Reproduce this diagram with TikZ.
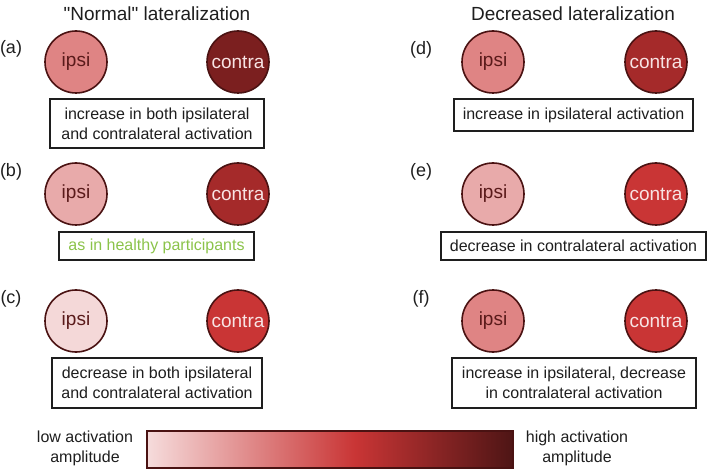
\documentclass[tikz,border=0pt]{standalone}
\usepackage{fontspec}
\setmainfont{Liberation Sans}
\newfontfamily\qfont{Liberation Sans}
\definecolor{rimc}{HTML}{4A1212}
\definecolor{ipsiA}{HTML}{DF8484}
\definecolor{ipsiB}{HTML}{E8AAAA}
\definecolor{ipsiC}{HTML}{F4D8D8}
\definecolor{conA}{HTML}{7B1F1F}
\definecolor{conB}{HTML}{A52A2A}
\definecolor{conC}{HTML}{C93535}
\definecolor{ipsitxt}{HTML}{5A1A1A}
\definecolor{contxt}{HTML}{F8E4E4}
\definecolor{txtc}{HTML}{1E1E1E}
\definecolor{greentxt}{HTML}{8BC34A}
\definecolor{cbL}{HTML}{F6DCDC}
\definecolor{cbM}{HTML}{C93535}
\definecolor{cbR}{HTML}{4E1515}
\begin{document}
\begin{tikzpicture}[x=1pt,y=-1pt,
  title/.style={font=\fontsize{19}{23}\selectfont, text=txtc, inner sep=0pt},
  lbl/.style={font=\fontsize{18}{22}\selectfont, text=txtc, inner sep=0pt},
  region/.style={circle, draw=rimc, line width=1.6pt, minimum size=62pt, inner sep=0pt, font=\fontsize{19}{23}\selectfont},
  ipsinode/.style={region, text=ipsitxt},
  contranode/.style={region, text=contxt},
  descbox/.style={draw=txtc, line width=1.2pt, inner sep=0pt, align=center, text=txtc, font=\fontsize{16}{20}\selectfont},
  barlbl/.style={font=\fontsize{16}{20}\selectfont, text=txtc, align=center, inner sep=0pt}
]
\useasboundingbox (0,0) rectangle (709,470);

% titles
\node[title] (tl) at (157,14) {\qfont "Normal" lateralization};
\node[title] (tr) at (573,14) {Decreased lateralization};

% labels
\node[lbl] (la) at (11,49) {(a)};
\node[lbl] (lb) at (11,172) {(b)};
\node[lbl] (lc) at (11,299) {(c)};
\node[lbl] (ld) at (421,50) {(d)};
\node[lbl] (le) at (421,172) {(e)};
\node[lbl] (lf) at (421,299) {(f)};

% circles
\node[ipsinode, fill=ipsiA] (ia) at (76,62) {ipsi};
\node[contranode, fill=conA] (ca) at (238,62) {contra};
\node[ipsinode, fill=ipsiB] (ib) at (76,194) {ipsi};
\node[contranode, fill=conB] (cb) at (238,194) {contra};
\node[ipsinode, fill=ipsiC] (ic) at (76,321) {ipsi};
\node[contranode, fill=conC] (cc) at (238,321) {contra};
\node[ipsinode, fill=ipsiA] (id) at (493,62) {ipsi};
\node[contranode, fill=conB] (cd) at (656,62) {contra};
\node[ipsinode, fill=ipsiB] (ie) at (493,194) {ipsi};
\node[contranode, fill=conC] (ce) at (656,194) {contra};
\node[ipsinode, fill=ipsiA] (if) at (493,321) {ipsi};
\node[contranode, fill=conC] (cf) at (656,321) {contra};

% description boxes
\node[descbox, minimum width=214pt, minimum height=49pt] (ba) at (157,123.5) {increase in both ipsilateral\\and contralateral activation};
\node[descbox, minimum width=195pt, minimum height=28pt, text=greentxt] (bb) at (156.5,246) {as in healthy participants};
\node[descbox, minimum width=210pt, minimum height=50pt] (bc) at (157,383) {decrease in both ipsilateral\\and contralateral activation};
\node[descbox, minimum width=239pt, minimum height=32pt] (bd) at (573.5,115) {increase in ipsilateral activation};
\node[descbox, minimum width=265pt, minimum height=28pt] (be) at (573.5,246) {decrease in contralateral activation};
\node[descbox, minimum width=244pt, minimum height=50pt] (bf) at (574,383) {increase in ipsilateral, decrease\\in contralateral activation};

% colour bar
\coordinate (cbsw) at (147,468);
\coordinate (cbmid) at (355,431);
\coordinate (cbmidb) at (355,468);
\coordinate (cbne) at (513,431);
\shade[left color=cbL, right color=cbM] (cbsw) rectangle (cbmid);
\shade[left color=cbM, right color=cbR] (cbmidb) rectangle (cbne);
\node[draw=rimc, line width=1.6pt, minimum width=366pt, minimum height=37pt, inner sep=0pt] (cbar) at (330,449.5) {};

\node[barlbl] (low) at (85,448) {low activation\\amplitude};
\node[barlbl] (high) at (577,448) {high activation\\amplitude};
\end{tikzpicture}
\end{document}
